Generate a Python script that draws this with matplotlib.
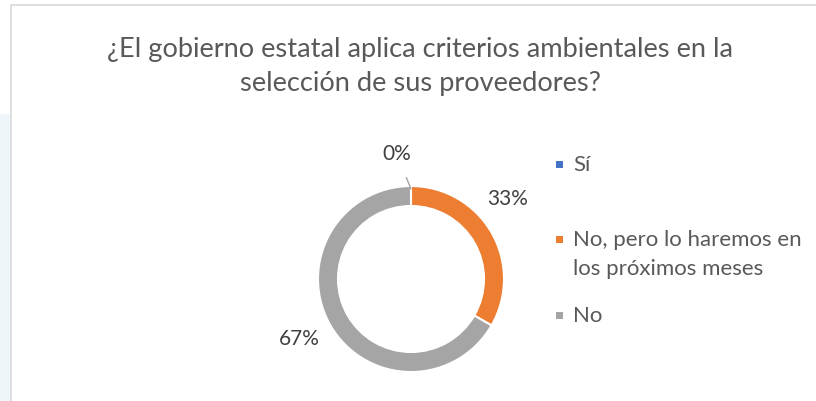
import matplotlib
matplotlib.use("Agg")
import matplotlib.pyplot as plt
import numpy as np
from matplotlib.patches import Rectangle

plt.rcParams["font.family"] = ["Lato", "DejaVu Sans"]

TITLE_LINES = ["¿El gobierno estatal aplica criterios ambientales en la",
               "selección de sus proveedores?"]
categories = ["Sí", "No, pero lo haremos en\nlos próximos meses", "No"]
shares = [0.0, 33.33, 66.67]
pct_labels = ["0%", "33%", "67%"]
colors = ["#4472C4", "#ED7D31", "#A5A5A5"]

W, H = 816, 402
fig = plt.figure(figsize=(W / 100, H / 100), dpi=100)
# one axes covering the whole figure, data units = pixels (y from bottom)
ax = fig.add_axes([0, 0, 1, 1])

cx, cy, radius = 411, H - 280, 93
wedges, _ = ax.pie(
    shares,
    colors=colors,
    startangle=90,
    counterclock=False,
    radius=radius,
    center=(cx, cy),
    wedgeprops=dict(width=20, edgecolor="white", linewidth=1.5),
)
ax.set_xlim(0, W)
ax.set_ylim(0, H)
ax.set_aspect("equal")
ax.axis("off")

# data labels around the ring
label_r = 126
angle_shift = [3, 10, -2]
for w, lab, shift in zip(wedges, pct_labels, angle_shift):
    mid = np.deg2rad((w.theta1 + w.theta2) / 2 + shift)
    tx = cx + label_r * np.cos(mid)
    ty = cy + label_r * np.sin(mid)
    if lab == "0%":
        ax.annotate(
            lab, xy=(cx, cy + radius - 3), xytext=(tx - 8, ty),
            ha="center", va="center", fontsize=15, color="#404040",
            arrowprops=dict(arrowstyle="-", color="#A5A5A5", lw=1,
                            shrinkA=9, shrinkB=0),
        )
    else:
        ax.text(tx, ty, lab, ha="center", va="center", fontsize=15,
                color="#404040")

# title, two lines
for line, y in zip(TITLE_LINES, [49, 83]):
    ax.text(420, H - y, line, ha="center", va="center", fontsize=19.6,
            color="#595959")

# legend, drawn by hand to keep Excel's uneven spacing
marker_y = [165, 240, 316]
line_h = 29
for cat, col, y in zip(categories, colors, marker_y):
    ax.add_patch(Rectangle((556, H - y - 3.5), 7, 7, color=col, lw=0))
    for i, part in enumerate(cat.split("\n")):
        ax.text(573, H - y - i * line_h, part, ha="left", va="center",
                fontsize=16, color="#595959")

# chart frame and the sliver of page on the left
ax.add_patch(Rectangle((0, 0), 10, H - 115, color="#EEF6F9", lw=0))
ax.add_patch(Rectangle((10.5, -5), W + 10, H - 6 + 5, fill=False,
                       edgecolor="#D9D9D9", lw=1.2))

fig.savefig("out.png", dpi=100)
